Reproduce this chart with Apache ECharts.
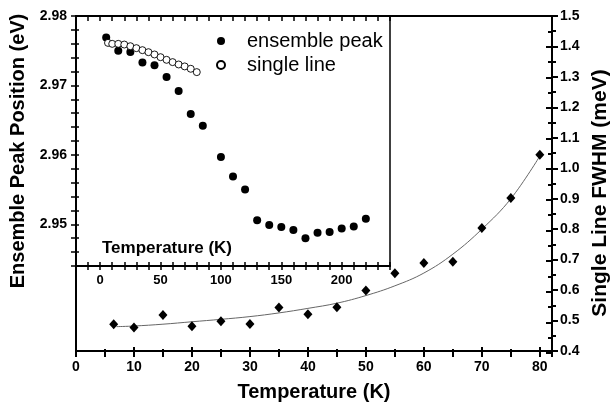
<!DOCTYPE html>
<html><head><meta charset="utf-8">
<script src="https://cdn.jsdelivr.net/npm/echarts@6/dist/echarts.min.js"></script>
<style>html,body{margin:0;padding:0;background:#fff}#c{width:611px;height:407px}</style>
</head><body><div id="c"></div>
<script>
// Main plot: single line FWHM vs temperature
const mainTemps = [6.5, 10, 15, 20, 25, 30, 35, 40, 45, 50, 55, 60, 65, 70, 75, 80];
const fwhmValues = [0.488, 0.477, 0.518, 0.481, 0.498, 0.489, 0.543, 0.521, 0.544, 0.599, 0.655, 0.689, 0.693, 0.804, 0.902, 1.044];
// Fit curve
const fitTemps = [7, 10, 15, 20, 25, 30, 35, 40, 45, 50, 55, 60, 65, 70, 75, 80];
const fitValues = [0.480, 0.482, 0.488, 0.496, 0.504, 0.513, 0.525, 0.540, 0.557, 0.582, 0.614, 0.656, 0.718, 0.800, 0.900, 1.040];
// Inset: ensemble peak position
const ensTemps = [5, 15, 25, 35, 45, 55, 65, 75, 85, 100, 110, 120, 130, 140, 150, 160, 170, 180, 190, 200, 210, 220];
const ensValues = [2.9769, 2.9750, 2.9748, 2.9733, 2.9729, 2.9712, 2.9692, 2.9659, 2.9642, 2.9597, 2.9569, 2.9550, 2.9506, 2.9499, 2.9496, 2.9492, 2.9480, 2.9488, 2.9489, 2.9494, 2.9497, 2.9508];
// Inset: single line position
const singleTemps = [6.5, 10, 15, 20, 25, 30, 35, 40, 45, 50, 55, 60, 65, 70, 75, 80];
const singleValues = [2.97613, 2.97599, 2.97599, 2.97589, 2.97565, 2.97537, 2.97508, 2.97479, 2.97446, 2.97407, 2.97369, 2.97336, 2.97302, 2.97274, 2.97240, 2.97192];
const legendNames = ['ensemble peak', 'single line'];
const titles = { x: 'Temperature (K)', yLeft: 'Ensemble Peak Position (eV)', yRight: 'Single Line FWHM (meV)', inset: 'Temperature (K)' };

const FONT = '"Liberation Sans", Arial, Helvetica, sans-serif';
const pair = (xs, ys) => xs.map((x, i) => [x, ys[i]]);
const blk = '#000';

const mainX = { min: 0, max: 82.1 };
const insetX = { min: -20, max: 240 };
const insetY = { min: 2.944, max: 2.98 };
const rightY = { min: 0.4, max: 1.5 };

const MAIN_GRID = { left: 76, top: 16, width: 476, height: 337 };
const INSET_GRID = { left: 76, top: 16, width: 314, height: 250 };

// build an axis; every piece is switched off unless given
function ax(grid, pos, range, interval, o) {
  o = o || {};
  return {
    type: 'value', gridIndex: grid, position: pos, min: range.min, max: range.max, interval: interval,
    axisLine: o.axisLine || { show: false, onZero: false },
    axisTick: o.axisTick || { show: false },
    minorTick: o.minorTick || { show: false },
    axisLabel: o.axisLabel || { show: false },
    splitLine: { show: false }, minorSplitLine: { show: false },
    name: o.name, nameLocation: o.nameLocation, nameGap: o.nameGap, nameTextStyle: o.nameTextStyle
  };
}
const line = w => ({ show: true, onZero: false, lineStyle: { color: blk, width: w } });
const tick = (len, inside, w) => ({ show: true, inside: !!inside, length: len, lineStyle: { color: blk, width: w } });
const minor = (len, w) => ({ show: true, splitNumber: 2, length: len, lineStyle: { color: blk, width: w } });
const lab = (size, margin, fmt) => ({ show: true, margin: margin, fontSize: size, fontWeight: 'bold', color: blk, fontFamily: FONT, formatter: fmt });
const fmtMainX = v => { const r = Math.round(v); return (Math.abs(v - r) < 1e-6 && r % 10 === 0) ? String(r) : ''; };
const fmtInsetX = v => { const r = Math.round(v); return (r >= 0 && r % 50 === 0 && Math.abs(v - r) < 1e-6) ? String(r) : ''; };
const fmtInsetY = v => { const k = Math.round(v * 1000); return k % 10 === 0 ? (k / 1000).toFixed(2) : ''; };
const fmtRight = v => v.toFixed(1);

const chart = echarts.init(document.getElementById('c'));
const option = {
  animation: false,
  textStyle: { fontFamily: FONT, color: blk },
  grid: [MAIN_GRID, MAIN_GRID, MAIN_GRID, MAIN_GRID, INSET_GRID, INSET_GRID],
  xAxis: [
    ax(0, 'bottom', mainX, 10, {
      axisLine: line(2), axisTick: tick(6, false, 2), axisLabel: lab(14, 9, fmtMainX),
      name: titles.x, nameLocation: 'middle', nameGap: 31,
      nameTextStyle: { fontSize: 20, fontWeight: 'bold', color: blk, fontFamily: FONT }
    }),
    ax(0, 'top', mainX, 10, { axisLine: line(2) }),
    ax(1, 'bottom', mainX, 10, { axisTick: tick(6, true, 2) }),
    ax(2, 'bottom', mainX, 5, { axisTick: tick(4, false, 2) }),
    ax(3, 'bottom', mainX, 5, { axisTick: tick(4, true, 2) }),
    ax(4, 'bottom', insetX, 10, { axisLine: line(2), axisTick: tick(4, false, 1.5), axisLabel: lab(13, 8, fmtInsetX) }),
    ax(4, 'top', insetX, 10, { axisLine: line(2), axisTick: tick(5, true, 1.5) }),
    ax(5, 'bottom', insetX, 10, { axisTick: tick(4, true, 1.5) })
  ],
  yAxis: [
    ax(0, 'right', rightY, 0.1, { axisLine: line(2), axisTick: tick(6, false, 2), minorTick: minor(4, 2), axisLabel: lab(14, 8, fmtRight) }),
    ax(0, 'left', rightY, 0.1, { axisLine: line(2) }),
    ax(1, 'right', rightY, 0.1, { axisTick: tick(6, true, 2), minorTick: minor(4, 2) }),
    ax(2, 'right', rightY, 0.1),
    ax(3, 'right', rightY, 0.1),
    ax(4, 'left', insetY, 0.002, { axisLine: line(2), axisTick: tick(5, false, 1.5), axisLabel: lab(14, 9, fmtInsetY) }),
    ax(4, 'right', insetY, 0.002, { axisLine: line(1.5) }),
    ax(5, 'left', insetY, 0.002, { axisTick: tick(3, true, 1.5) })
  ],
  legend: {
    data: legendNames.map(n => ({ name: n })),
    orient: 'vertical', left: 211, top: 26, itemWidth: 42, itemHeight: 8, itemGap: 4,
    textStyle: { fontSize: 20, color: blk, fontFamily: FONT, lineHeight: 20 },
    selectedMode: false
  },
  graphic: [
    { type: 'text', x: 18, y: 151, rotation: Math.PI / 2,
      style: { text: titles.yLeft, fontSize: 20, fontWeight: 'bold', fontFamily: FONT, fill: blk, align: 'center', verticalAlign: 'middle', textAlign: 'center', textVerticalAlign: 'middle' } },
    { type: 'text', x: 600, y: 193, rotation: Math.PI / 2,
      style: { text: titles.yRight, fontSize: 21, fontWeight: 'bold', fontFamily: FONT, fill: blk, align: 'center', verticalAlign: 'middle', textAlign: 'center', textVerticalAlign: 'middle' } },
    { type: 'text', x: 167, y: 248,
      style: { text: titles.inset, fontSize: 17, fontWeight: 'bold', fontFamily: FONT, fill: blk, align: 'center', verticalAlign: 'middle', textAlign: 'center', textVerticalAlign: 'middle' } }
  ],
  series: [
    { type: 'line', name: 'fit', xAxisIndex: 0, yAxisIndex: 0, data: pair(fitTemps, fitValues), smooth: 0.4,
      showSymbol: false, symbol: 'none', lineStyle: { color: '#666', width: 1 }, z: 2 },
    { type: 'scatter', name: 'FWHM', xAxisIndex: 0, yAxisIndex: 0, data: pair(mainTemps, fwhmValues),
      symbol: 'diamond', symbolSize: [9, 10], itemStyle: { color: blk, opacity: 1 }, z: 3 },
    { type: 'scatter', name: legendNames[0], xAxisIndex: 5, yAxisIndex: 5, data: pair(ensTemps, ensValues),
      symbol: 'circle', symbolSize: 8, itemStyle: { color: blk, opacity: 1 }, z: 3 },
    { type: 'scatter', name: legendNames[1], xAxisIndex: 5, yAxisIndex: 5, data: pair(singleTemps, singleValues),
      symbol: 'circle', symbolSize: 7, itemStyle: { color: '#fff', borderColor: blk, borderWidth: 0.9, opacity: 1 }, z: 4 }
  ]
};
chart.setOption(option);
</script></body></html>
